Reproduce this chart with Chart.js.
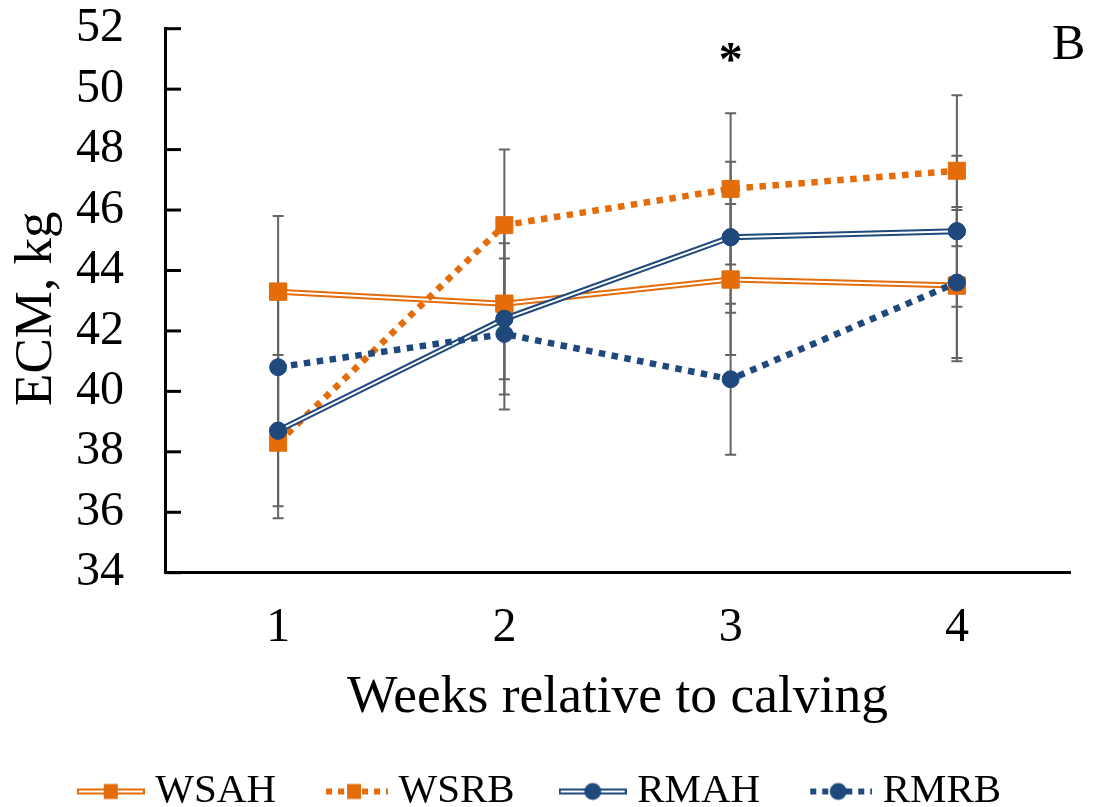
<!DOCTYPE html>
<html>
<head>
<meta charset="utf-8">
<style>
  html, body { margin: 0; padding: 0; background: #fff; overflow: hidden; }
  canvas { display: block; }
</style>
</head>
<body>
<canvas id="myChart" width="1109" height="822"></canvas>
<script src="https://cdn.jsdelivr.net/npm/chart.js@4"></script>
<script>
const weeks = ['1', '2', '3', '4'];
const wsah = [43.3, 42.9, 43.7, 43.5];
const wsrb = [38.3, 45.5, 46.7, 47.3];
const rmah = [38.7, 42.4, 45.1, 45.3];
const rmrb = [40.8, 41.9, 40.4, 43.6];
// error bar half lengths (SE)
const wsahSe = [2.5, 2.5, 2.5, 2.5];
const wsrbSe = [2.5, 2.5, 2.5, 2.5];
const rmahSe = [2.5, 2.5, 2.5, 2.5];
const rmrbSe = [2.5, 2.5, 2.5, 2.5];
const yMin = 34, yMax = 52, yStep = 2;
const starWeeks = ['3'];
const panelLabel = 'B';
const yTitle = 'ECM, kg';

const orange = '#E46C0A';
const blue = '#1F497D';
const serif = "'Liberation Serif', 'Times New Roman', serif";

Chart.defaults.font.family = serif;
Chart.defaults.color = '#000';

// little picture for the legend: line, marker, line
function legendSample(color, dotted, shape) {
    var c = document.createElement('canvas');
    c.width = 68;
    c.height = 22;
    var g = c.getContext('2d');
    var cy = 11;
    g.strokeStyle = color;
    g.fillStyle = color;
    if (dotted) {
        g.lineWidth = 6;
        g.setLineDash([6, 6]);
        g.lineDashOffset = -6;
        g.beginPath(); g.moveTo(0, cy); g.lineTo(68, cy); g.stroke();
        g.setLineDash([]);
    } else {
        g.lineWidth = 6;
        g.beginPath(); g.moveTo(0, cy); g.lineTo(68, cy); g.stroke();
        g.strokeStyle = '#fff';
        g.lineWidth = 2;
        g.beginPath(); g.moveTo(2, cy); g.lineTo(66, cy); g.stroke();
    }
    if (shape == 'rect') {
        g.fillRect(34 - 7, cy - 7.5, 14, 15);
    } else {
        g.beginPath(); g.arc(34, cy, 8.5, 0, Math.PI * 2); g.fill();
    }
    return c;
}

const errorBars = {
    id: 'errorBars',
    beforeDatasetsDraw(chart) {
        const ctx = chart.ctx, y = chart.scales.y;
        ctx.save();
        ctx.strokeStyle = '#646464';
        ctx.lineWidth = 2;
        chart.data.datasets.forEach((ds, i) => {
            chart.getDatasetMeta(i).data.forEach((pt, j) => {
                const top = y.getPixelForValue(ds.data[j] + ds.se[j]);
                const bot = y.getPixelForValue(ds.data[j] - ds.se[j]);
                ctx.beginPath();
                ctx.moveTo(pt.x, top); ctx.lineTo(pt.x, bot);
                ctx.moveTo(pt.x - 5.5, top); ctx.lineTo(pt.x + 5.5, top);
                ctx.moveTo(pt.x - 5.5, bot); ctx.lineTo(pt.x + 5.5, bot);
                ctx.stroke();
            });
        });
        ctx.restore();
    }
};

// white stripe in the middle of the "double" lines, then markers again on top
const doubleLine = {
    id: 'doubleLine',
    afterDatasetDraw(chart, args) {
        const ds = chart.data.datasets[args.index];
        if (!ds.doubleLine) return;
        const ctx = chart.ctx, pts = args.meta.data;
        ctx.save();
        ctx.strokeStyle = '#fff';
        ctx.lineWidth = 2;
        ctx.beginPath();
        pts.forEach((p, k) => k ? ctx.lineTo(p.x, p.y) : ctx.moveTo(p.x, p.y));
        ctx.stroke();
        pts.forEach(p => p.draw(ctx, chart.chartArea));
        ctx.restore();
    }
};

const extras = {
    id: 'extras',
    afterDraw(chart) {
        const ctx = chart.ctx, area = chart.chartArea;
        const x = chart.scales.x, y = chart.scales.y;
        ctx.save();
        // inside tick marks on the value axis
        ctx.strokeStyle = '#000';
        ctx.lineWidth = 3;
        y.ticks.forEach(t => {
            const py = y.getPixelForValue(t.value);
            ctx.beginPath();
            ctx.moveTo(area.left, py);
            ctx.lineTo(area.left + 16, py);
            ctx.stroke();
        });
        ctx.fillStyle = '#000';
        ctx.font = 'bold 48px ' + serif;
        ctx.textAlign = 'center';
        ctx.textBaseline = 'alphabetic';
        starWeeks.forEach(w => ctx.fillText('*', x.getPixelForValue(weeks.indexOf(w)), 75));
        ctx.font = '50px ' + serif;
        ctx.textAlign = 'left';
        ctx.fillText(panelLabel, 1052, 59);
        // value axis title, a little below the middle of the axis like the original
        ctx.translate(37, (area.top + area.bottom) / 2 + 8);
        ctx.rotate(-Math.PI / 2);
        ctx.font = '53px ' + serif;
        ctx.textAlign = 'center';
        ctx.textBaseline = 'middle';
        ctx.fillText(yTitle, 0, 0);
        ctx.restore();
    }
};

new Chart('myChart', {
    type: 'line',
    data: {
        labels: weeks,
        datasets: [{
            label: 'WSAH',
            data: wsah,
            se: wsahSe,
            borderColor: orange,
            backgroundColor: orange,
            borderWidth: 6,
            pointStyle: 'rect',
            pointRadius: 12,
            pointBorderWidth: 1,
            pointBackgroundColor: orange,
            pointBorderColor: orange,
            doubleLine: true,
            legendSample: legendSample(orange, false, 'rect'),
            order: 4
        }, {
            label: 'WSRB',
            data: wsrb,
            se: wsrbSe,
            borderColor: orange,
            backgroundColor: orange,
            borderWidth: 6.5,
            borderDash: [6.5, 6.5],
            pointStyle: 'rect',
            pointRadius: 12,
            pointBorderWidth: 1,
            pointBackgroundColor: orange,
            pointBorderColor: orange,
            legendSample: legendSample(orange, true, 'rect'),
            order: 3
        }, {
            label: 'RMAH',
            data: rmah,
            se: rmahSe,
            borderColor: blue,
            backgroundColor: blue,
            borderWidth: 6,
            pointStyle: 'circle',
            pointRadius: 8.5,
            pointBorderWidth: 1,
            pointBackgroundColor: blue,
            pointBorderColor: blue,
            doubleLine: true,
            legendSample: legendSample(blue, false, 'circle'),
            order: 2
        }, {
            label: 'RMRB',
            data: rmrb,
            se: rmrbSe,
            borderColor: blue,
            backgroundColor: blue,
            borderWidth: 6.5,
            borderDash: [6.5, 6.5],
            pointStyle: 'circle',
            pointRadius: 8.5,
            pointBorderWidth: 1,
            pointBackgroundColor: blue,
            pointBorderColor: blue,
            legendSample: legendSample(blue, true, 'circle'),
            order: 1
        }]
    },
    options: {
        responsive: false,
        animation: false,
        devicePixelRatio: 1,
        layout: { padding: { left: 18, right: 39, top: 28.7, bottom: 0 } },
        elements: { line: { tension: 0, borderCapStyle: 'butt' } },
        scales: {
            x: {
                offset: true,
                ticks: { font: { size: 48 }, color: '#000', padding: 27 },
                grid: { display: false, drawTicks: false },
                border: { display: true, color: '#000', width: 3 },
                title: {
                    display: true,
                    text: 'Weeks relative to calving',
                    font: { size: 53.5 },
                    color: '#000',
                    padding: { top: 0, bottom: -13 }
                },
                afterFit(scale) { scale.height = 144.3; }
            },
            y: {
                min: yMin,
                max: yMax,
                ticks: { stepSize: yStep, autoSkip: false, font: { size: 48 }, color: '#000', padding: 41 },
                grid: { display: false, drawTicks: false },
                border: { display: true, color: '#000', width: 3 },
                title: { display: false },
                afterFit(scale) {
                    scale.width = 147;
                    scale.paddingTop = 0;
                    scale.paddingBottom = 0;
                }
            }
        },
        plugins: {
            tooltip: { enabled: false },
            legend: {
                position: 'bottom',
                labels: {
                    usePointStyle: true,
                    pointStyleWidth: 48,
                    padding: 54,
                    font: { size: 41 },
                    color: '#000',
                    generateLabels(chart) {
                        return chart.data.datasets.map((ds, i) => ({
                            text: ds.label,
                            pointStyle: ds.legendSample,
                            fillStyle: ds.borderColor,
                            strokeStyle: ds.borderColor,
                            lineWidth: 0,
                            hidden: false,
                            fontColor: '#000',
                            datasetIndex: i
                        }));
                    }
                }
            }
        }
    },
    plugins: [errorBars, doubleLine, extras]
});
</script>
</body>
</html>
